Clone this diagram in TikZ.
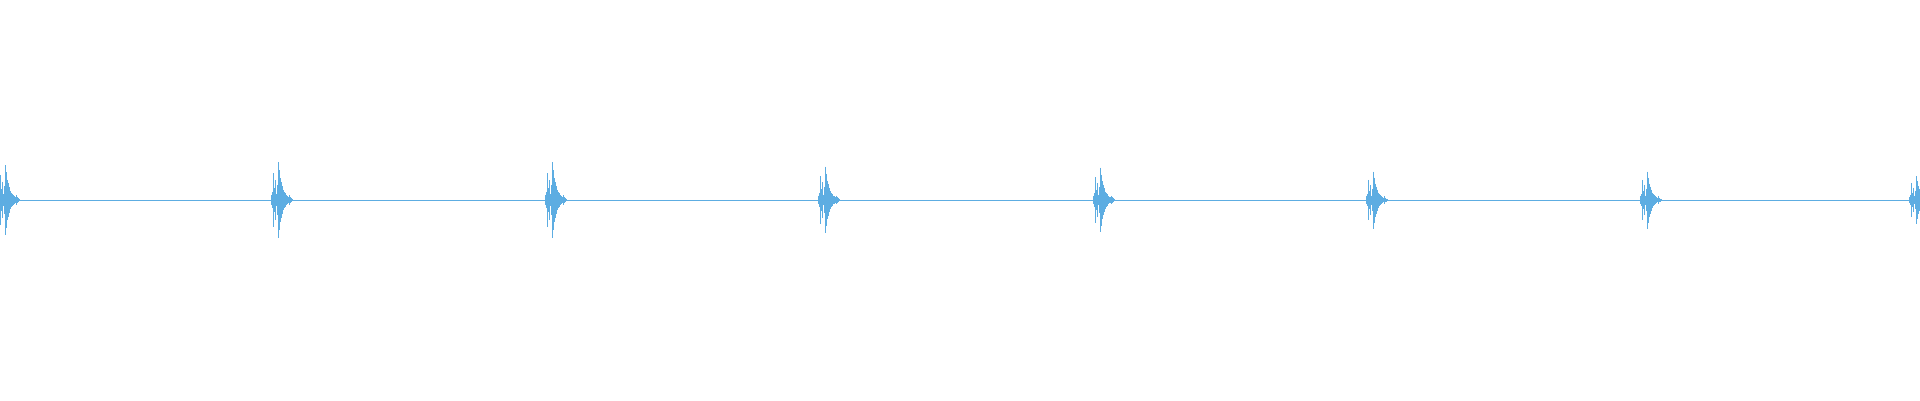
\documentclass[tikz,border=0pt]{standalone}
\definecolor{wave}{HTML}{5DADE2}
\begin{document}
\begin{tikzpicture}[x=1pt,y=-1pt,wv/.style={draw=wave,line width=1pt}]
\useasboundingbox (0,0) rectangle (1920,400);
\coordinate (L) at (0,200);
\coordinate (R) at (1920,200);
\draw[wv] (L) -- (R);
\foreach \c/\s in {5/0.92,278/1,552/1,825/0.88,1100/0.85,1373/0.75,1647/0.75,1916/0.62}{
  \foreach \d/\a in {-7/5,-6/8,-5/27,-4/12,-3/20,-2/6,-1/15,0/38,1/30,2/22,3/18,4/14,5/10,6/8,7/7,8/5,9/4,10/3,11/5,12/3,13/2,14/1}{
    \draw[wave,line width=0.9pt] (\c+\d,200-\s*\a) -- (\c+\d,200+\s*\a);
  }
}
\end{tikzpicture}
\end{document}
